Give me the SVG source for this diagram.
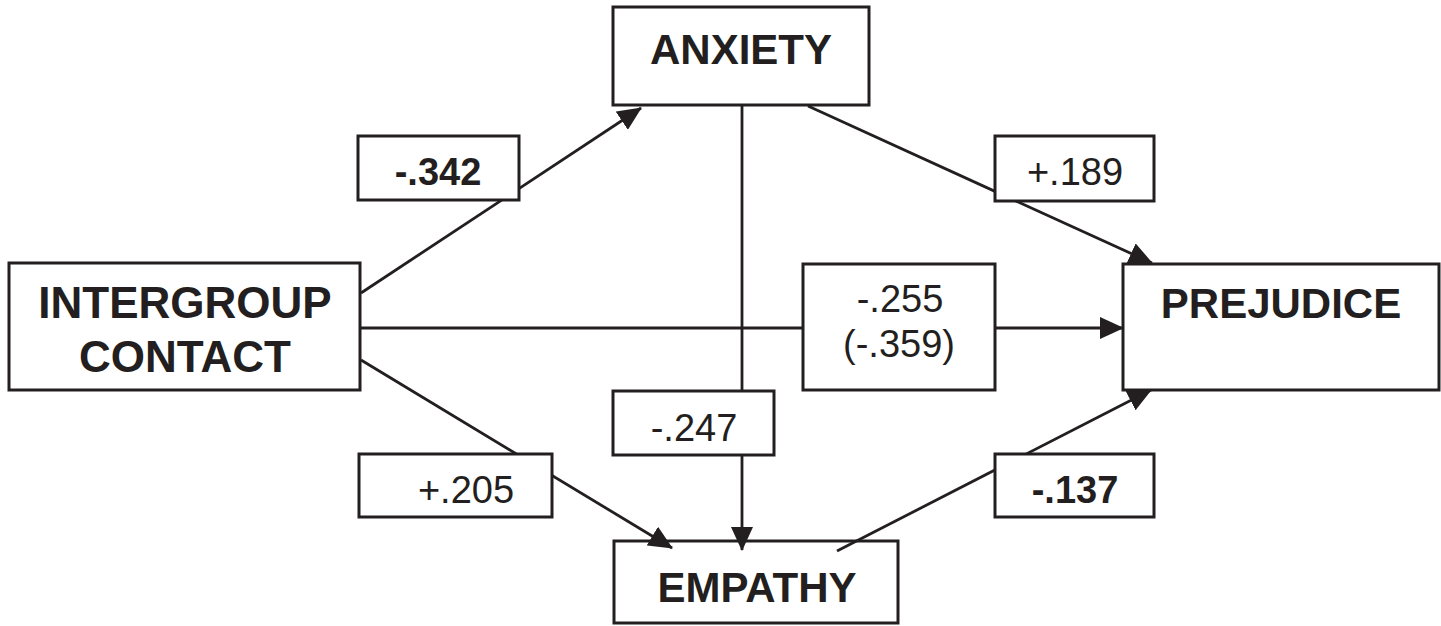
<svg xmlns="http://www.w3.org/2000/svg" width="1441" height="626" viewBox="0 0 1441 626">
<style>
.box{fill:#fff;stroke:#231f20;stroke-width:3}
.node{font-family:"Liberation Sans",Arial,sans-serif;font-weight:bold;font-size:42px;fill:#231f20;text-anchor:middle}
.num{font-family:"Liberation Sans",Arial,sans-serif;font-size:38px;fill:#231f20;text-anchor:middle}
.b{font-weight:bold}
.edge{stroke:#231f20;stroke-width:2.8;fill:none;marker-end:url(#arr)}
</style>
<defs>
<marker id="arr" markerUnits="userSpaceOnUse" markerWidth="24" markerHeight="22" viewBox="0 0 24 22" refX="23" refY="11" orient="auto">
<path d="M0,0 L24,11 L0,22 Z" fill="#231f20"/>
</marker>
</defs>
<rect width="1441" height="626" fill="#fff"/>
<g id="node-contact"><rect class="box" x="9" y="263" width="351" height="127"/><text class="node" x="185" y="318" style="font-size:44px">INTERGROUP</text><text class="node" x="185" y="372" style="font-size:44px">CONTACT</text></g>
<g id="node-anxiety"><rect class="box" x="613" y="7" width="256" height="98"/><text class="node" x="741" y="64">ANXIETY</text></g>
<g id="node-prejudice"><rect class="box" x="1123" y="264" width="316" height="126"/><text class="node" x="1281" y="318">PREJUDICE</text></g>
<g id="node-empathy"><rect class="box" x="614" y="541" width="284" height="82"/><text class="node" x="757" y="602">EMPATHY</text></g>
<g id="connectors">
<line class="edge" x1="361" y1="293" x2="641" y2="108"/>
<line class="edge" x1="808" y1="106" x2="1152" y2="263"/>
<line class="edge" x1="361" y1="328" x2="1123" y2="328"/>
<line class="edge" x1="361" y1="360" x2="672" y2="548"/>
<line class="edge" x1="742" y1="105" x2="742" y2="550"/>
<line class="edge" x1="837" y1="551" x2="1151" y2="390"/>
</g>
<g id="label-342"><rect class="box" x="358" y="136" width="161" height="64"/><text class="num b" x="438" y="185">-.342</text></g>
<g id="label-189"><rect class="box" x="995" y="136" width="159" height="65"/><text class="num" x="1075" y="185">+.189</text></g>
<g id="label-255"><rect class="box" x="803" y="264" width="192" height="126"/><text class="num" x="900" y="312">-.255</text><text class="num" x="899" y="357">(-.359)</text></g>
<g id="label-247"><rect class="box" x="613" y="391" width="161" height="64"/><text class="num" x="694" y="441">-.247</text></g>
<g id="label-205"><rect class="box" x="359" y="454" width="193" height="63"/><text class="num" x="466" y="503">+.205</text></g>
<g id="label-137"><rect class="box" x="995" y="454" width="159" height="63"/><text class="num b" x="1075" y="503">-.137</text></g>
</svg>
